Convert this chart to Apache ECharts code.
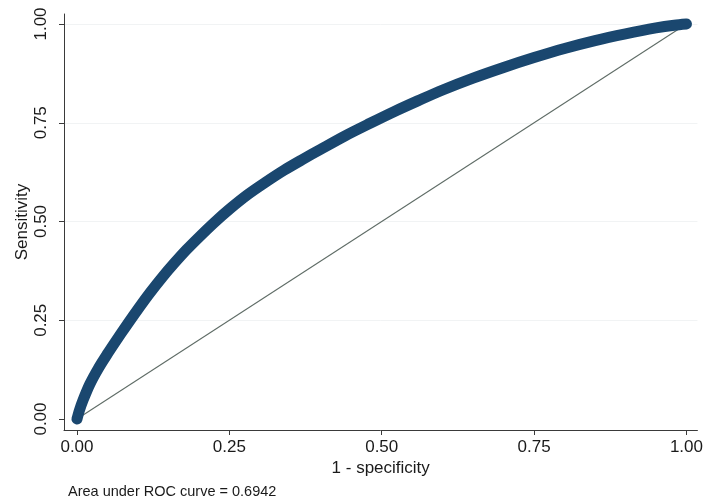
<!DOCTYPE html>
<html>
<head>
<meta charset="utf-8">
<script src="https://cdn.jsdelivr.net/npm/echarts@6/dist/echarts.min.js"></script>
<style>html,body{margin:0;padding:0;background:#fff}#c{width:706px;height:502px}</style>
</head>
<body>
<div id="c"></div>
<script>
// ROC curve points
var fpr = [0, 0.004, 0.010, 0.021, 0.035, 0.050, 0.065, 0.080, 0.100, 0.120, 0.140, 0.160, 0.180, 0.200, 0.225, 0.250, 0.280, 0.310, 0.340, 0.370, 0.400, 0.440, 0.480, 0.520, 0.560, 0.600, 0.650, 0.700, 0.750, 0.800, 0.850, 0.900, 0.950, 0.980, 1.0];
var tpr = [0, 0.022, 0.048, 0.088, 0.128, 0.165, 0.200, 0.234, 0.278, 0.320, 0.359, 0.395, 0.429, 0.460, 0.497, 0.531, 0.568, 0.600, 0.630, 0.657, 0.683, 0.717, 0.748, 0.778, 0.806, 0.833, 0.863, 0.890, 0.915, 0.938, 0.958, 0.975, 0.990, 0.997, 1.0];
var refX = [0, 1];
var refY = [0, 1];
var tickValues = [0, 0.25, 0.5, 0.75, 1];
var tickLabels = ['0.00', '0.25', '0.50', '0.75', '1.00'];
var xTitle = '1 - specificity';
var yTitle = 'Sensitivity';
var footnote = 'Area under ROC curve = 0.6942';

var FONT = 'Liberation Sans, Arial, sans-serif';
function fmt(v) { var i = tickValues.indexOf(v); return i >= 0 ? tickLabels[i] : ''; }

var curve = fpr.map(function (f, i) { return [f, tpr[i]]; });
var diag = refX.map(function (x, i) { return [x, refY[i]]; });

var chart = echarts.init(document.getElementById('c'), null, { renderer: 'canvas' });
chart.setOption({
  animation: false,
  backgroundColor: '#ffffff',
  grid: { left: 64, right: 8, top: 14, bottom: 72, containLabel: false },
  xAxis: {
    type: 'value', min: -0.0213, max: 1.018,
    name: xTitle, nameLocation: 'middle', nameGap: 30, nameMoveOverlap: false,
    nameTextStyle: { fontFamily: FONT, fontSize: 17, color: '#1a1a1a' },
    axisLine: { show: true, onZero: false, lineStyle: { color: '#3a3a3a', width: 1 } },
    axisTick: { show: true, length: 5, customValues: tickValues, lineStyle: { color: '#3a3a3a' } },
    axisLabel: { customValues: tickValues, formatter: fmt, margin: 9, fontFamily: FONT, fontSize: 17, color: '#1a1a1a' },
    splitLine: { show: false }
  },
  yAxis: {
    type: 'value', min: -0.0278, max: 1.0253,
    name: yTitle, nameLocation: 'middle', nameGap: 33, nameRotate: 90, nameMoveOverlap: false,
    nameTextStyle: { fontFamily: FONT, fontSize: 17, color: '#1a1a1a' },
    axisLine: { show: true, onZero: false, lineStyle: { color: '#3a3a3a', width: 1 } },
    axisTick: { show: true, length: 5, customValues: tickValues, lineStyle: { color: '#3a3a3a' } },
    axisLabel: { customValues: tickValues, formatter: fmt, rotate: 90, margin: 14, fontFamily: FONT, fontSize: 17, color: '#1a1a1a' },
    splitLine: { show: false }
  },
  series: [
    {
      type: 'line', data: [], symbol: 'none', silent: true, z: 0,
      markLine: {
        silent: true, symbol: 'none', label: { show: false }, z: 0,
        lineStyle: { color: '#f1f3f4', width: 1, type: 'solid' },
        data: tickValues.slice(1).map(function (v) { return { yAxis: v }; })
      }
    },
    {
      type: 'line', data: diag, symbol: 'none', silent: true, z: 2,
      lineStyle: { color: '#5f6c66', width: 1.1 }
    },
    {
      type: 'line', data: curve, symbol: 'none', silent: true, z: 3, smooth: 0.3,
      lineStyle: { color: '#1a476f', width: 11, cap: 'round', join: 'round' }
    }
  ],
  graphic: [
    {
      type: 'text', left: 68, top: 484,
      style: { text: footnote, font: '14.5px ' + FONT, fill: '#1a1a1a' }
    }
  ]
});
</script>
</body>
</html>
